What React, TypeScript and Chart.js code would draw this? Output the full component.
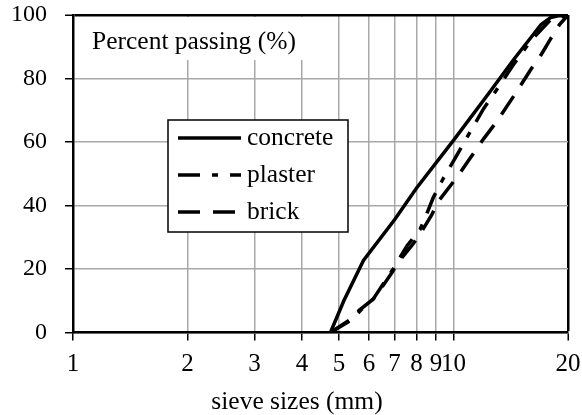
import React, { useEffect, useRef } from 'react';
import { Chart, registerables } from 'chart.js';

Chart.register(...registerables);

// ---- data ----
const xTickValues = [1, 2, 3, 4, 5, 6, 7, 8, 9, 10, 20];
const xAxisTitle = 'sieve sizes (mm)';
const yAxisLabel = 'Percent passing (%)';

const seriesNames = ['concrete', 'plaster', 'brick'];

const concreteSizes = [4.75, 5.15, 5.8, 7, 8, 10, 12.5, 14.4, 16, 17, 18, 19, 20];
const concreteValues = [0, 10, 22.7, 35.5, 45.5, 60.5, 76, 86, 93, 97, 99.2, 99.8, 100];

const plasterSizes = [4.75, 5.5, 5.7, 6.15, 6.9, 7.56, 8.17, 8.45, 8.85, 9.4, 10, 10.8, 12, 13, 14.5, 16, 18, 20];
const plasterValues = [0, 5, 7, 10.5, 19.5, 27.4, 32.5, 36.5, 42.5, 48.5, 54, 61, 70.5, 76.5, 85, 92, 98.5, 100];

const brickSizes = [4.75, 5.4, 5.65, 6.15, 6.3, 6.9, 7.2, 7.84, 8.17, 8.78, 9.1, 10.3, 11, 12, 13, 14.5, 16, 17, 18, 19, 20];
const brickValues = [0, 4, 7, 10.5, 12, 19, 22.5, 28, 31, 37.2, 41.1, 49.5, 54.5, 61, 66.5, 75, 83, 87.5, 92.5, 97, 100];

const FONT = "'Liberation Serif', 'Times New Roman', serif";

function toPoints(xs: number[], ys: number[]) {
  return xs.map((x, i) => ({ x, y: ys[i] }));
}

const innerLabelPlugin = {
  id: 'innerLabel',
  beforeDatasetsDraw(chart: any) {
    const { ctx, chartArea } = chart;
    ctx.save();
    ctx.fillStyle = '#fff';
    ctx.fillRect(chartArea.left + 2, chartArea.top + 2, 231, 43);
    ctx.fillStyle = '#000';
    ctx.font = `25.5px ${FONT}`;
    ctx.textBaseline = 'alphabetic';
    ctx.textAlign = 'left';
    ctx.fillText(yAxisLabel, chartArea.left + 19, chartArea.top + 34);
    ctx.restore();
  },
};

const xTitlePlugin = {
  id: 'xTitle',
  afterDraw(chart: any) {
    const { ctx, chartArea } = chart;
    ctx.save();
    ctx.fillStyle = '#000';
    ctx.font = `25.5px ${FONT}`;
    ctx.textBaseline = 'middle';
    ctx.textAlign = 'center';
    ctx.fillText(xAxisTitle, chartArea.left + 224, chart.height - 13);
    ctx.restore();
  },
};

const boxLegendPlugin = {
  id: 'boxLegend',
  afterDatasetsDraw(chart: any) {
    const { ctx } = chart;
    const bx = 168, by = 120, bw = 180, bh = 112;
    ctx.save();
    ctx.fillStyle = '#fff';
    ctx.fillRect(bx, by, bw, bh);
    ctx.strokeStyle = '#000';
    ctx.lineWidth = 1.5;
    ctx.strokeRect(bx, by, bw, bh);
    chart.data.datasets.forEach((ds: any, i: number) => {
      const y = by + 18 + i * 37;
      ctx.beginPath();
      ctx.setLineDash(ds.borderDash || []);
      ctx.lineWidth = ds.borderWidth;
      ctx.strokeStyle = ds.borderColor;
      ctx.moveTo(bx + 10, y);
      ctx.lineTo(bx + 73, y);
      ctx.stroke();
      ctx.setLineDash([]);
      ctx.fillStyle = '#000';
      ctx.font = `25.5px ${FONT}`;
      ctx.textBaseline = 'middle';
      ctx.textAlign = 'left';
      ctx.fillText(ds.label, bx + 79, y);
    });
    ctx.restore();
  },
};

export default function App() {
  const ref = useRef<HTMLCanvasElement>(null);
  useEffect(() => {
    if (!ref.current) return;
    const chart = new Chart(ref.current, {
      type: 'line',
      data: {
        datasets: [
          {
            label: seriesNames[0],
            data: toPoints(concreteSizes, concreteValues),
            borderColor: '#000',
            borderWidth: 3.5,
            pointRadius: 0,
            tension: 0,
          },
          {
            label: seriesNames[1],
            data: toPoints(plasterSizes, plasterValues),
            borderColor: '#000',
            borderWidth: 3.5,
            borderDash: [22, 12, 6, 12],
            pointRadius: 0,
            tension: 0,
          },
          {
            label: seriesNames[2],
            data: toPoints(brickSizes, brickValues),
            borderColor: '#000',
            borderWidth: 3.5,
            borderDash: [22, 13],
            pointRadius: 0,
            tension: 0,
          },
        ],
      },
      options: {
        animation: false,
        responsive: false,
        devicePixelRatio: 1,
        layout: { padding: { top: 15, right: 14, left: 0, bottom: 0 } },
        plugins: {
          legend: { display: false },
          tooltip: { enabled: false },
        },
        scales: {
          x: {
            type: 'logarithmic',
            min: 1,
            max: 20,
            afterBuildTicks: (scale: any) => {
              scale.ticks = xTickValues.map((v) => ({ value: v }));
            },
            afterFit: (scale: any) => {
              scale.height = 82.5;
              scale.paddingLeft = 0;
              scale.paddingRight = 0;
            },
            ticks: {
              autoSkip: false,
              maxRotation: 0,
              minRotation: 0,
              padding: 9,
              color: '#000',
              font: { family: FONT, size: 25, lineHeight: 1.2 },
              callback: (v: any) => String(v),
            },
            grid: {
              color: (c: any) => (c.tick && c.tick.value === 20 ? '#000' : '#a8a8a8'),
              lineWidth: (c: any) => (c.tick && c.tick.value === 20 ? 2.5 : 1.5),
              tickColor: '#000',
              tickLength: 8,
              tickWidth: 1.5,
            },
            border: { color: '#000', width: 2.5 },
            title: { display: false },
          },
          y: {
            min: 0,
            max: 100,
            afterFit: (scale: any) => {
              scale.width = 73;
              scale.paddingTop = 0;
              scale.paddingBottom = 0;
            },
            ticks: {
              stepSize: 10,
              padding: 18,
              color: '#000',
              font: { family: FONT, size: 24 },
              callback: (v: any) => (Number(v) % 20 === 0 ? String(v) : ''),
            },
            grid: {
              color: (c: any) => (c.tick && c.tick.value === 100 ? '#000' : '#a8a8a8'),
              lineWidth: (c: any) => (c.tick && c.tick.value === 100 ? 2.5 : 1.5),
              tickColor: '#000',
              tickLength: 8,
              tickWidth: 1.5,
            },
            border: { color: '#000', width: 2.5 },
          },
        },
      },
      plugins: [innerLabelPlugin, boxLegendPlugin, xTitlePlugin],
    });
    return () => chart.destroy();
  }, []);
  return (
    <div style={{ position: 'absolute', left: 0, top: 0, width: 582, height: 415, background: '#fff' }}>
      <canvas ref={ref} width={582} height={415} />
    </div>
  );
}
